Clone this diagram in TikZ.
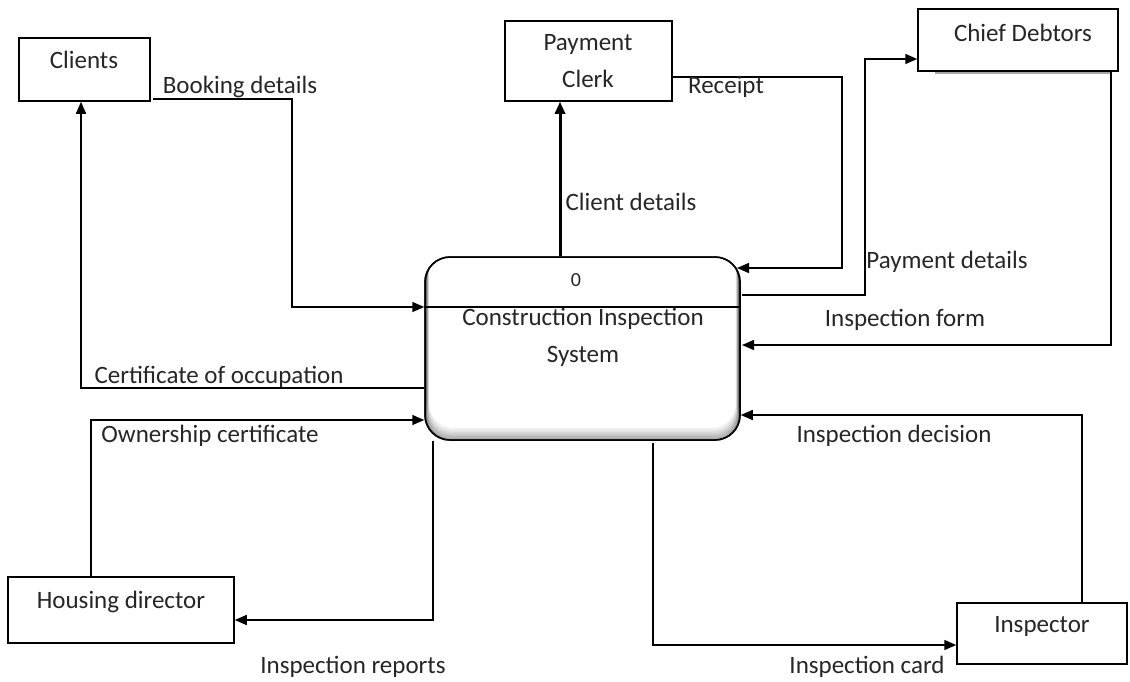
\documentclass[tikz,border=0pt]{standalone}
\usepackage{fontspec}
\setmainfont{Carlito}
\usetikzlibrary{arrows.meta,calc}
\begin{document}
\begin{tikzpicture}[x=1pt,y=-1pt,
  every node/.style={font=\fontsize{25}{37}\selectfont, text=black!85},
  entity/.style={draw, line width=1.5pt, fill=white, inner sep=0pt},
  lbl/.style={inner sep=0pt, align=center},
  flow/.style={draw, line width=1.5pt, -{Triangle[length=12pt,width=10pt]}}]
\useasboundingbox (0,0) rectangle (1130,681);

% external entities
\node[entity, minimum width=131, minimum height=63] (clients) at (84.5,69.5) {};
\node[lbl] (clientsT) at (84,60) {Clients};
\node[entity, minimum width=167, minimum height=80] (clerk) at (588.5,61) {};
\node[lbl] (clerkT) at (588,61.5) {Payment\\Clerk};
\fill[black!35] (935,70) rectangle (1110,73.5);
\node[entity, minimum width=200, minimum height=62] (debt) at (1018,40) {};
\node[lbl] (debtT) at (1023,33) {Chief Debtors};
\node[entity, minimum width=226, minimum height=66] (house) at (121,610) {};
\node[lbl] (houseT) at (121,602) {Housing director};
\node[entity, minimum width=170, minimum height=61] (insp) at (1042,633.5) {};
\node[lbl] (inspT) at (1042,626) {Inspector};

% process
\node[draw, line width=1.5pt, rounded corners=25pt, minimum width=315, minimum height=183,
      inner sep=0pt, fill=white] (proc) at (582.5,348.5) {};
\begin{scope}
  \clip[rounded corners=25pt] (425,257) rectangle (740,440);
  \foreach \s/\o in {1/0.30,3/0.25,5/0.20,7/0.14,9/0.09,11/0.05}
    \draw[black, line width=2.2pt, opacity=\o, rounded corners=25pt]
      (425+0.3*\s,257-\s) rectangle (740-0.3*\s,440-\s);
\end{scope}
\draw[line width=1.5pt, rounded corners=25pt] (425,257) rectangle (740,440);
\draw[line width=1.1pt] (proc.west |- 0,307) -- (proc.east |- 0,307);
\node[lbl] (procN) at (576,280) {\fontsize{20}{24}\selectfont 0};
\node[lbl] (procT) at (583,337) {Construction Inspection\\System};

% bend points
\coordinate (bd) at (292,307);
\coordinate (coc) at (81,388);
\coordinate (cdx) at (560,0);
\coordinate (rc) at (842,268);
\coordinate (pd) at (865,59);
\coordinate (ifm) at (1111,345);
\coordinate (idc) at (1082,415);
\coordinate (own) at (91,420);
\coordinate (irp) at (433,620);
\coordinate (icd) at (653,645);

% data flows
\draw[flow] ($(clients.south east)+(2,-3)$) -| (bd) -- (bd -| proc.west);
\draw[flow] (coc -| proc.west) -- (coc) -- (coc |- clients.south);
\draw[flow, line width=3pt] (cdx |- proc.north) -- (cdx |- clerk.south);
\draw[flow] (clerk.east |- 0,77) -| (rc) -- (737,268);
\draw[flow] (742,295) -| (pd) -- (pd -| debt.west);
\draw[flow] (ifm |- debt.south) -- (ifm) -- (ifm -| 742,0);
\draw[flow] (idc |- insp.north) -- (idc) -- (idc -| proc.east);
\draw[flow] (own |- house.north) -- (own) -- (own -| proc.west);
\draw[flow] (irp |- proc.south) -- (irp) -- (irp -| house.east);
\draw[flow] (653,443) -- (icd) -- (icd -| insp.west);

% flow labels
\node[lbl] (l1) at (240,87) {Booking details};
\node[lbl] (l2) at (726,87) {Receipt};
\node[lbl] (l3) at (631,202) {Client details};
\node[lbl] (l4) at (947,262) {Payment details};
\node[lbl] (l5) at (905,320) {Inspection form};
\node[lbl] (l6) at (219,377) {Certificate of occupation};
\node[lbl] (l7) at (210,436) {Ownership certificate};
\node[lbl] (l8) at (894,436) {Inspection decision};
\node[lbl] (l9) at (353,667) {Inspection reports};
\node[lbl] (l10) at (867,667) {Inspection card};
\end{tikzpicture}
\end{document}
